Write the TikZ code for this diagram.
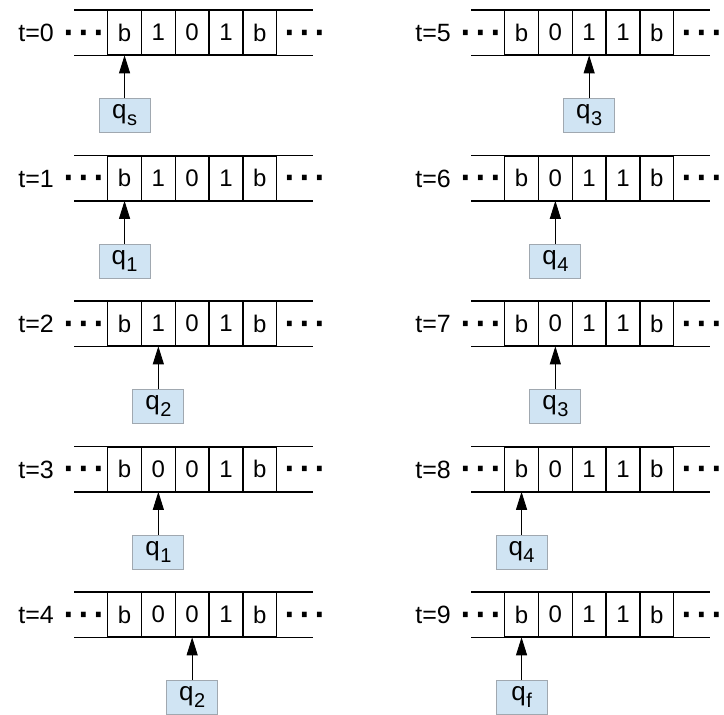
\documentclass[tikz,border=0pt]{standalone}
\usepackage{fontspec}
\setmainfont{Liberation Sans}
\usetikzlibrary{arrows.meta}
\definecolor{headblue}{RGB}{208,228,243}
\definecolor{headedge}{RGB}{160,168,176}
\newcommand\qstate[1]{q\kern0.5pt\raisebox{-7pt}{\fontsize{20}{20}\selectfont #1}}
\newcommand\tapedots{\kern-5pt·\kern-1.5pt·\kern-1.5pt·\kern-5pt}

\begin{document}
\begin{tikzpicture}[x=1pt, y=-1pt,
  cell/.style={draw, line width=1.3pt, minimum width=33.8pt, minimum height=44pt, inner sep=0pt, anchor=north west, font=\fontsize{24}{24}\selectfont},
  tape/.style={line width=1.6pt},
  tlabel/.style={anchor=east, inner sep=0pt, font=\fontsize{25}{25}\selectfont},
  dots/.style={anchor=base, inner sep=0pt, font=\fontsize{50}{50}\selectfont},
  head/.style={draw=headedge, fill=headblue, line width=0.9pt, minimum width=51pt, minimum height=34pt, inner sep=0pt, anchor=north, font=\fontsize{26}{26}\selectfont},
  move/.style={-{Triangle[length=18pt, width=11pt]}, line width=0.9pt}]
\useasboundingbox (0,0) rectangle (724,715);

% one tape per time step: t / x / y / cells / head cell / state
\foreach \t/\ox/\oy/\cells/\h/\s in {
  0/74/10/{b,1,0,1,b}/1/s,
  1/74/155.5/{b,1,0,1,b}/1/1,
  2/74/301/{b,1,0,1,b}/2/2,
  3/74/446.5/{b,0,0,1,b}/2/1,
  4/74/592/{b,0,0,1,b}/3/2,
  5/471/10/{b,0,1,1,b}/3/3,
  6/471/155.5/{b,0,1,1,b}/2/4,
  7/471/301/{b,0,1,1,b}/2/3,
  8/471/446.5/{b,0,1,1,b}/1/4,
  9/471/592/{b,0,1,1,b}/1/f} {
  \foreach \c [count=\k] in \cells
    \node[cell] (c\t-\k) at ({\ox+33+33.8*(\k-1)}, \oy) {\c};
  \draw[tape] ([xshift=-33pt]c\t-1.north west) -- ([xshift=36pt]c\t-5.north east);
  \draw[tape] ([xshift=-33pt]c\t-1.south west) -- ([xshift=36pt]c\t-5.south east);
  \node[tlabel] (t\t) at ({\ox-20}, \oy+23) {t=\t};
  \node[dots] (dl\t) at ({\ox+10}, \oy+36) {\tapedots};
  \node[dots] (dr\t) at ({\ox+231}, \oy+36) {\tapedots};
  \node[head] (q\t) at (c\t-\h.south |- 0,\oy+88) {\qstate{\s}};
  \draw[move] (q\t) -- (c\t-\h.south);
}
\end{tikzpicture}
\end{document}
